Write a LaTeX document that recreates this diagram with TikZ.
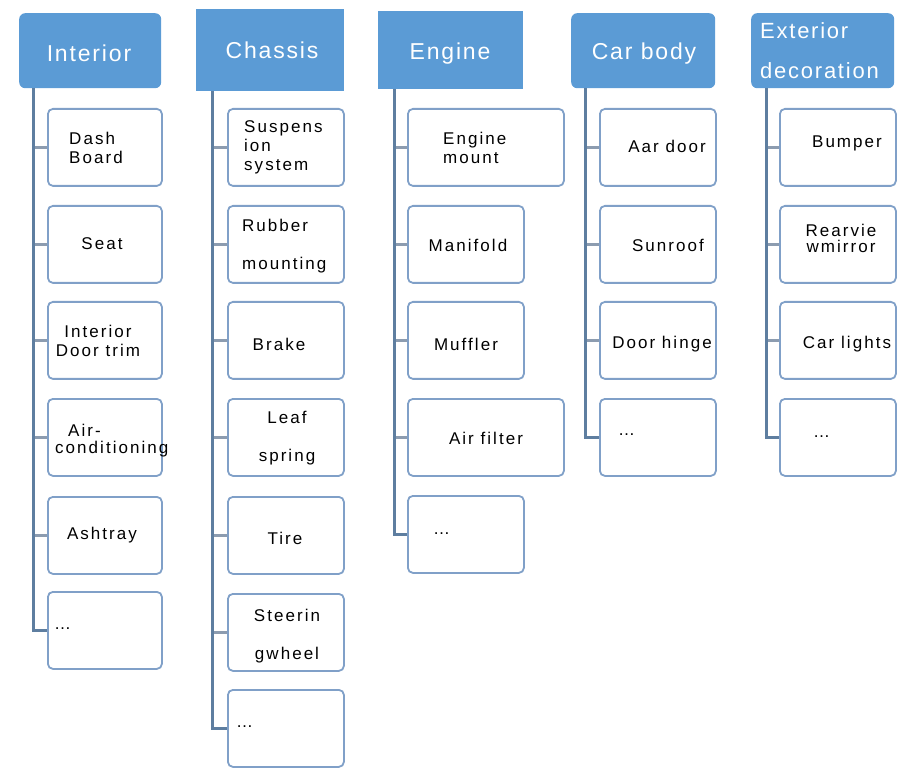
\documentclass[tikz,border=0pt]{standalone}
\usepackage{fontspec}
\setmainfont{Liberation Sans}
\newfontfamily\hdrfont[LetterSpace=8]{Liberation Sans}
\newfontfamily\itemfont[LetterSpace=12]{Liberation Sans}
\definecolor{hdrblue}{RGB}{91,155,213}
\definecolor{boxedge}{RGB}{128,160,200}
\definecolor{trunkc}{RGB}{94,126,160}
\definecolor{branchc}{RGB}{140,156,176}
\tikzset{
  hdr/.style={fill=hdrblue, draw=none, anchor=north west, inner sep=0pt,
    text=white, font=\hdrfont\fontsize{23}{27}\selectfont},
  hdrround/.style={hdr, rounded corners=6pt},
  htxt/.style={text height=16.5pt, text depth=0pt, inner sep=0pt, text=white,
    font=\hdrfont\fontsize{23}{27}\selectfont},
  cbox/.style={draw=boxedge, line width=1.8pt, fill=white, rounded corners=5pt,
    anchor=north west, inner sep=0pt},
  itxt/.style={font=\itemfont\fontsize{17}{19}\selectfont, inner sep=0pt, text=black},
  trunk/.style={draw=trunkc, line width=3pt},
  branch/.style={draw=branchc, line width=3pt},
}
\newcommand{\cbx}[5]{\node[cbox, minimum width=#4pt, minimum height=#5pt] (#1) at (#2,#3) {};}
\begin{document}
\begin{tikzpicture}[x=1pt,y=-1pt]
\useasboundingbox (0,0) rectangle (922,770);
% ---------- headers
\node[hdrround, minimum width=142pt, minimum height=75pt] (h1) at (19,13) {};
\node[hdr, minimum width=148pt, minimum height=82pt] (h2) at (196,9) {};
\node[hdr, minimum width=145pt, minimum height=78pt] (h3) at (378,11) {};
\node[hdrround, minimum width=144pt, minimum height=75pt] (h4) at (571,13) {};
\node[hdrround, minimum width=143pt, minimum height=75pt] (h5) at (751,13) {};
\node[htxt] (h1t) at (89,53) {Interior};
\node[htxt] (h2t) at (272,50.5) {Chassis};
\node[htxt] (h3t) at (450,51) {Engine};
\node[htxt] (h4t) at (644,51.5) {Car body};
\node[font=\hdrfont\fontsize{22}{40}\selectfont, text=white, align=left, inner sep=0pt, anchor=west] (h5t) at (760,51) {Exterior\\decoration};
% ---------- column 1 boxes
\cbx{c11}{47}{108}{114}{77}
\cbx{c12}{47}{205}{114}{77}
\cbx{c13}{47}{301}{114}{77}
\cbx{c14}{47}{398}{114}{77}
\cbx{c15}{47}{496}{114}{77}
\cbx{c16}{47}{591}{114}{77}
% column 2
\cbx{c21}{227}{108}{116}{77}
\cbx{c22}{227}{205}{116}{77}
\cbx{c23}{227}{301}{116}{77}
\cbx{c24}{227}{398}{116}{77}
\cbx{c25}{227}{496}{116}{77}
\cbx{c26}{227}{593}{116}{77}
\cbx{c27}{227}{689}{116}{77}
% column 3
\cbx{c31}{407}{108}{156}{77}
\cbx{c32}{407}{205}{116}{77}
\cbx{c33}{407}{301}{116}{77}
\cbx{c34}{407}{398}{156}{77}
\cbx{c35}{407}{495}{116}{77}
% column 4
\cbx{c41}{599}{108}{116}{77}
\cbx{c42}{599}{205}{116}{77}
\cbx{c43}{599}{301}{116}{77}
\cbx{c44}{599}{398}{116}{77}
% column 5
\cbx{c51}{779}{108}{116}{77}
\cbx{c52}{779}{205}{116}{77}
\cbx{c53}{779}{301}{116}{77}
\cbx{c54}{779}{398}{116}{77}
% ---------- connectors
\draw[branch] (c11.west) -- ++(-14,0);
\draw[branch] (c12.west) -- ++(-14,0);
\draw[branch] (c13.west) -- ++(-14,0);
\draw[branch] (c14.west) -- ++(-14,0);
\draw[branch] (c15.west) -- ++(-14,0);
\draw[trunk] ([xshift=14pt]h1.south west) |- (c16.west);
\draw[branch] (c21.west) -- ++(-15,0);
\draw[branch] (c22.west) -- ++(-15,0);
\draw[branch] (c23.west) -- ++(-15,0);
\draw[branch] (c24.west) -- ++(-15,0);
\draw[branch] (c25.west) -- ++(-15,0);
\draw[branch] (c26.west) -- ++(-15,0);
\draw[trunk] ([xshift=16pt]h2.south west) |- (c27.west);
\draw[branch] (c31.west) -- ++(-13,0);
\draw[branch] (c32.west) -- ++(-13,0);
\draw[branch] (c33.west) -- ++(-13,0);
\draw[branch] (c34.west) -- ++(-13,0);
\draw[trunk] ([xshift=16pt]h3.south west) |- (c35.west);
\draw[branch] (c41.west) -- ++(-14,0);
\draw[branch] (c42.west) -- ++(-14,0);
\draw[branch] (c43.west) -- ++(-14,0);
\draw[trunk] ([xshift=14pt]h4.south west) |- (c44.west);
\draw[branch] (c51.west) -- ++(-13,0);
\draw[branch] (c52.west) -- ++(-13,0);
\draw[branch] (c53.west) -- ++(-13,0);
\draw[trunk] ([xshift=15pt]h5.south west) |- (c54.west);
% ---------- item texts
\node[itxt, align=left] (t11) at (96,148) {Dash\\Board};
\node[itxt] (t12) at (102,244) {Seat};
\node[itxt, align=center] (t13) at (98,341) {Interior\\Door trim};
\node[itxt, align=left, anchor=west] (t14) at (55,441) {\hspace{13pt}Air-\\[-2pt]conditioning};
\node[itxt] (t15) at (102,535) {Ashtray};
\node[itxt, anchor=west] (t16) at (54,629) {…};
\node[itxt, align=left, anchor=west] (t21) at (244,147) {Suspens\\ion\\system};
\node[itxt, align=left, anchor=west] (t22) at (242,246) {Rubber\\[19pt]mounting};
\node[itxt] (t23) at (279,344) {Brake};
\node[itxt, align=center] (t24) at (287,438) {Leaf\\[19pt]spring};
\node[itxt] (t25) at (285,538) {Tire};
\node[itxt, align=center] (t26) at (287,636) {Steerin\\[19pt]gwheel};
\node[itxt, anchor=west] (t27) at (236,727) {…};
\node[itxt, align=left, anchor=west] (t31) at (443,148) {Engine\\mount};
\node[itxt] (t32) at (468,245) {Manifold};
\node[itxt] (t33) at (466,344) {Muffler};
\node[itxt] (t34) at (486,438) {Air filter};
\node[itxt, anchor=west] (t35) at (433,534) {…};
\node[itxt] (t41) at (667,146) {Aar door};
\node[itxt] (t42) at (668,245) {Sunroof};
\node[itxt] (t43) at (662,344) {Door hinge};
\node[itxt, anchor=west] (t44) at (618,435) {…};
\node[itxt] (t51) at (847,143) {Bumper};
\node[itxt, align=center] (t52) at (841,238) {Rearvie\\[-3pt]wmirror};
\node[itxt] (t53) at (847,344) {Car lights};
\node[itxt, anchor=west] (t54) at (813,437) {…};
\end{tikzpicture}
\end{document}
